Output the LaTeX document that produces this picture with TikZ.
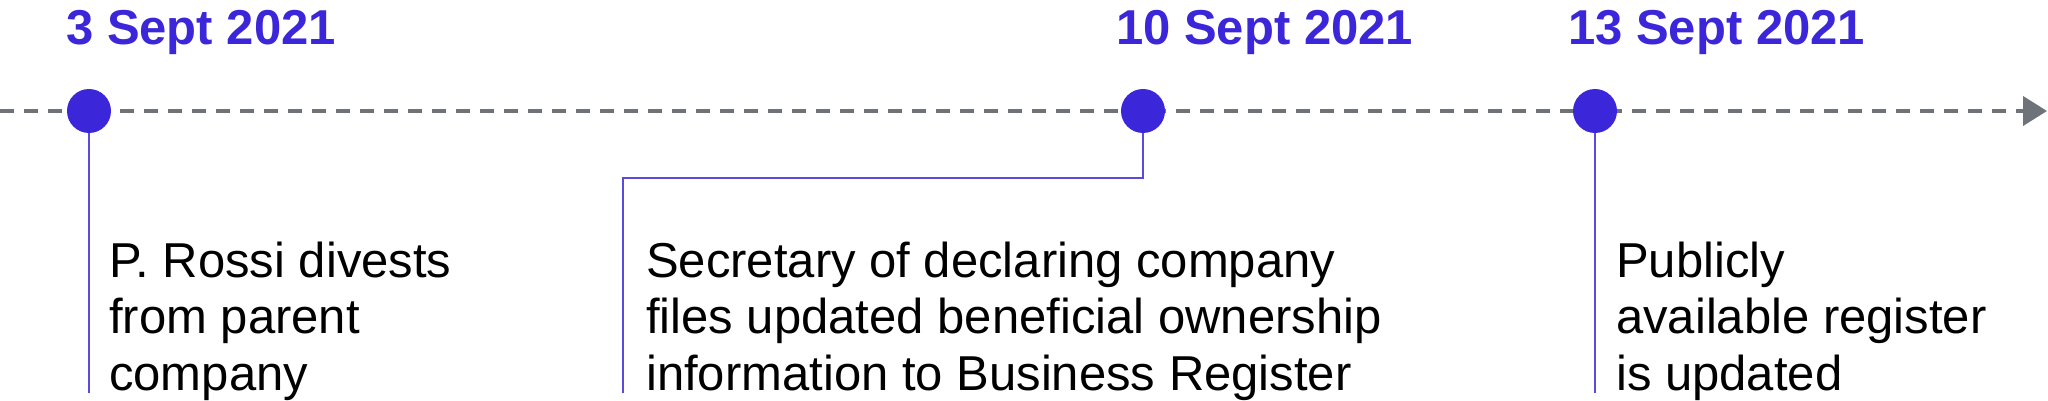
\documentclass[tikz,border=0pt]{standalone}
\usepackage{fontspec}
\setmainfont{Liberation Sans}
\usetikzlibrary{arrows.meta}
\definecolor{tlpurple}{RGB}{59,38,217}
\definecolor{tlgray}{RGB}{110,115,122}
\definecolor{tlline}{RGB}{90,74,224}
\begin{document}
\begin{tikzpicture}[x=1pt,y=-1pt,
  dot/.style={circle,fill=tlpurple,minimum size=44pt,inner sep=0pt},
  datelabel/.style={anchor=base west,inner sep=0pt,text=tlpurple,font=\fontsize{49}{56}\selectfont\bfseries},
  body/.style={anchor=base west,inner sep=0pt,align=left,font=\fontsize{49}{56.5}\selectfont},
  axisline/.style={draw=tlgray,line width=4pt,dash pattern=on 14pt off 10pt,-{Triangle[length=24pt,width=29pt]}},
  stem/.style={draw=tlline,line width=2pt}]
\useasboundingbox (0,0) rectangle (2048,401);
% axis
\coordinate (axstart) at (0,111);
\coordinate (axend) at (2047,111);
\draw[axisline] (axstart) -- (axend);
% dots
\node[dot] (d1) at (89,111) {};
\node[dot] (d2) at (1143,111) {};
\node[dot] (d3) at (1595,111) {};
% dates
\node[datelabel] (t1) at (66,45) {3 Sept 2021};
\node[datelabel] (t2) at (1116,45) {10 Sept 2021};
\node[datelabel] (t3) at (1568,45) {13 Sept 2021};
% texts (base anchor = baseline of last line)
\node[body] (b1) at (109,390) {P. Rossi divests\\from parent\\company};
\node[body] (b2) at (646,390) {Secretary of declaring company\\files updated beneficial ownership\\information to Business Register};
\node[body] (b3) at (1616,390) {Publicly\\available register\\is updated};
% stems
\coordinate (e1) at (89,393);
\coordinate (k2) at (623,178);
\coordinate (e2) at (623,393);
\coordinate (e3) at (1595,393);
\draw[stem] (d1.south) -- (e1);
\draw[stem] (d2.south) |- (k2) -- (e2);
\draw[stem] (d3.south) -- (e3);
\end{tikzpicture}
\end{document}
